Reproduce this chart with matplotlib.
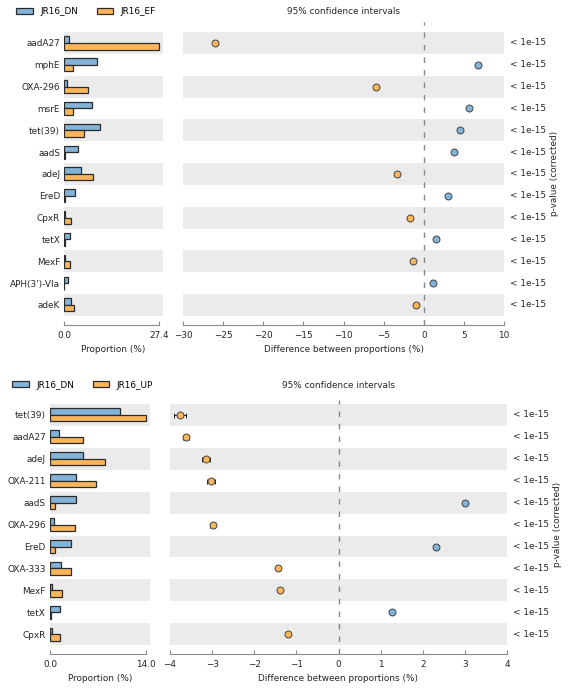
import matplotlib
matplotlib.use("Agg")
import matplotlib.pyplot as plt
from matplotlib.patches import Patch
import numpy as np

# ---------------- data ----------------
genes_top = ["aadA27", "mphE", "OXA-296", "msrE", "tet(39)", "aadS", "adeJ",
             "EreD", "CpxR", "tetX", "MexF", "APH(3')-VIa", "adeK"]
dn_top = [1.35, 9.3, 0.9, 8.0, 10.3, 3.9, 4.9, 3.1, 0.3, 1.6, 0.3, 1.2, 1.9]
ef_top = [27.4, 2.6, 6.7, 2.4, 5.8, 0.1, 8.3, 0.1, 2.05, 0.07, 1.7, 0.05, 2.9]
diff_top = [-26.0, 6.7, -6.0, 5.6, 4.5, 3.8, -3.3, 3.0, -1.75, 1.5, -1.4, 1.15, -0.95]
ci_top = [0.12, 0.08, 0.08, 0.08, 0.09, 0.06, 0.08, 0.05, 0.04, 0.03, 0.04, 0.03, 0.05]
p_top = ["< 1e-15"] * 13

genes_bot = ["tet(39)", "aadA27", "adeJ", "OXA-211", "aadS", "OXA-296", "EreD",
             "OXA-333", "MexF", "tetX", "CpxR"]
dn_bot = [10.2, 1.3, 4.9, 3.75, 3.8, 0.6, 3.0, 1.55, 0.35, 1.4, 0.3]
up_bot = [14.0, 4.9, 8.1, 6.8, 0.8, 3.6, 0.7, 3.0, 1.75, 0.12, 1.5]
diff_bot = [-3.76, -3.63, -3.14, -3.02, 3.0, -2.99, 2.32, -1.44, -1.40, 1.27, -1.21]
ci_bot = [0.14, 0.07, 0.10, 0.09, 0.05, 0.06, 0.05, 0.04, 0.04, 0.04, 0.04]
p_bot = ["< 1e-15"] * 11

legend_top = ["JR16_DN", "JR16_EF"]
legend_bot = ["JR16_DN", "JR16_UP"]

# ---------------- style ----------------
BLUE = "#82B4DA"
ORANGE = "#FBB65A"
EDGE = "#2b2b2b"
BAND = "#EBEBEB"
SPINE = "#8c8c8c"
TXT = "#262626"
FS = 6.4

W, H = 573, 695
fig = plt.figure(figsize=(W / 100, H / 100), dpi=100)


def px_axes(x0, y0, x1, y1):
    return fig.add_axes([x0 / W, 1 - y1 / H, (x1 - x0) / W, (y1 - y0) / H])


def panel(genes, g1, g2, diff, ci, pvals, names, bar_box, ci_box, ylim,
          ci_xlim, ci_ticks, bar_max, bar_xlim, leg_y, leg_x, title_y):
    n = len(genes)
    y = np.arange(n)
    # ---- bar panel ----
    axb = px_axes(*bar_box)
    for i in range(n):
        if i % 2 == 0:
            axb.axhspan(i - 0.5, i + 0.5, color=BAND, zorder=0, lw=0)
    h = 0.3
    axb.barh(y - h / 2, g1, height=h, color=BLUE, edgecolor=EDGE, lw=0.9, zorder=2)
    axb.barh(y + h / 2, g2, height=h, color=ORANGE, edgecolor=EDGE, lw=0.9, zorder=2)
    axb.set_ylim(*ylim)
    axb.set_xlim(*bar_xlim)
    axb.set_yticks(y)
    axb.set_yticklabels(genes, fontsize=FS, color=TXT)
    axb.tick_params(axis="y", length=0, pad=3)
    axb.set_xticks([0, bar_max])
    axb.set_xticklabels(["0.0", f"{bar_max:.1f}"], fontsize=FS, color=TXT)
    axb.tick_params(axis="x", direction="in", length=3, color=SPINE, pad=4)
    for s in ["top", "right", "left"]:
        axb.spines[s].set_visible(False)
    axb.spines["bottom"].set_color(SPINE)
    axb.spines["bottom"].set_bounds(0, bar_max)
    axb.set_xlabel("Proportion (%)", fontsize=FS, color=TXT, labelpad=4)
    axb.patch.set_alpha(0)

    # ---- CI panel ----
    axc = px_axes(*ci_box)
    for i in range(n):
        if i % 2 == 0:
            axc.axhspan(i - 0.5, i + 0.5, color=BAND, zorder=0, lw=0)
    axc.axvline(0, color="#888888", ls=(0, (4, 5)), lw=1.0, zorder=1)
    for i in range(n):
        c = BLUE if diff[i] > 0 else ORANGE
        axc.errorbar(diff[i], y[i], xerr=ci[i], fmt="o", ms=5, mfc=c,
                     mec="#444444", mew=0.7, ecolor="#222222", elinewidth=0.8,
                     capsize=1.8, capthick=0.8, zorder=3)
    axc.set_ylim(*ylim)
    axc.set_xlim(*ci_xlim)
    axc.set_yticks([])
    axc.set_xticks(ci_ticks)
    axc.set_xticklabels([("\u2212" + str(abs(t))) if t < 0 else str(t) for t in ci_ticks],
                        fontsize=FS, color=TXT)
    axc.tick_params(axis="x", direction="in", length=3, color=SPINE, pad=4)
    for s in ["top", "right", "left"]:
        axc.spines[s].set_visible(False)
    axc.spines["bottom"].set_color(SPINE)
    axc.set_xlabel("Difference between proportions (%)", fontsize=FS,
                   color=TXT, labelpad=4)
    axc.patch.set_alpha(0)
    # p-values
    for i in range(n):
        axc.annotate(pvals[i], xy=(1, y[i]), xycoords=("axes fraction", "data"),
                     xytext=(4, 0), textcoords="offset points", va="center",
                     ha="left", fontsize=FS, color=TXT)
    axc.annotate("p-value (corrected)", xy=(1, (n - 1) / 2),
                 xycoords=("axes fraction", "data"), xytext=(33, 0),
                 textcoords="offset points", rotation=90, va="center",
                 ha="left", fontsize=FS, color=TXT)
    # title
    cx = (ci_box[0] + ci_box[2]) / 2
    fig.text(cx / W, 1 - title_y / H, "95% confidence intervals", ha="center",
             va="center", fontsize=FS, color=TXT)
    # legend
    handles = [Patch(facecolor=BLUE, edgecolor=EDGE, lw=0.9),
               Patch(facecolor=ORANGE, edgecolor=EDGE, lw=0.9)]
    fig.legend(handles, names, loc="center left",
               bbox_to_anchor=(leg_x / W, 1 - leg_y / H), ncol=2, frameon=False,
               fontsize=FS, handlelength=1.9, handleheight=0.65,
               columnspacing=2.1, handletextpad=0.8, borderaxespad=0,
               borderpad=0)


panel(genes_top, dn_top, ef_top, diff_top, ci_top, p_top, legend_top,
      bar_box=(64.3, 22, 163, 325), ci_box=(183, 22, 504, 325),
      ylim=(12.92, -0.96), ci_xlim=(-30, 10),
      ci_ticks=[-30, -25, -20, -15, -10, -5, 0, 5, 10],
      bar_max=27.4, bar_xlim=(0, 27.4 * 1.04), leg_y=12, leg_x=16, title_y=12)

panel(genes_bot, dn_bot, up_bot, diff_bot, ci_bot, p_bot, legend_bot,
      bar_box=(50, 400, 150, 654), ci_box=(170, 400, 507, 654),
      ylim=(10.9, -0.68), ci_xlim=(-4, 4),
      ci_ticks=[-4, -3, -2, -1, 0, 1, 2, 3, 4],
      bar_max=14.0, bar_xlim=(0, 14.0 * 1.045), leg_y=385, leg_x=12, title_y=385)

fig.savefig("out.png", dpi=100)
